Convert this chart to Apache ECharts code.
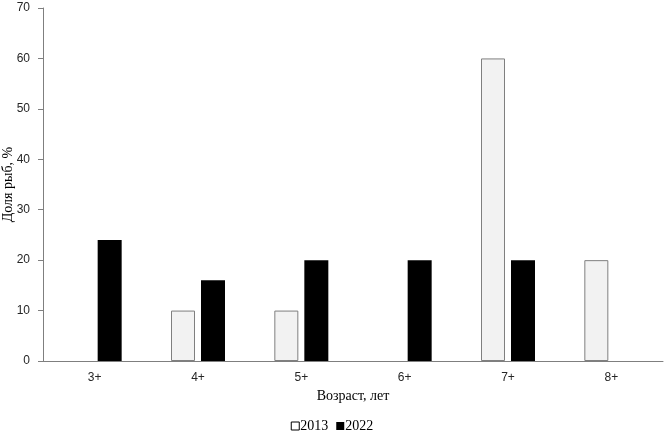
<!DOCTYPE html>
<html><head><meta charset="utf-8">
<script src="https://cdn.jsdelivr.net/npm/echarts@6/dist/echarts.min.js"></script>
<style>html,body{margin:0;padding:0;background:#fff}#c{width:664px;height:439px}</style>
</head><body><div id="c"></div>
<script>
const categories = ['3+','4+','5+','6+','7+','8+'];
const values2013 = [0, 10, 10, 0, 60, 20];
const values2022 = [24, 16, 20, 20, 20, 0];
const yTicks = {min: 0, max: 70, interval: 10};

// zero-height bars are not drawn in the reference
const toBars = arr => arr.map(v => (v === 0 ? null : v));

const chart = echarts.init(document.getElementById('c'), null, {renderer: 'canvas'});
const serif = '"Liberation Serif", "Times New Roman", serif';
const sans = '"Liberation Sans", Arial, sans-serif';
chart.setOption({
  animation: false,
  backgroundColor: '#fff',
  grid: {left: 43, right: 1, top: 8, bottom: 78, containLabel: false, outerBoundsMode: 'none'},
  legend: {
    top: 414, left: 'center',
    itemWidth: 8, itemHeight: 8, itemGap: 8,
    textStyle: {fontFamily: serif, fontSize: 14, color: '#000', padding: [0,0,0,-4]},
    data: [
      {name: '2013', icon: 'rect', itemStyle: {color: '#fff', borderColor: '#000', borderWidth: 1}},
      {name: '2022', icon: 'rect', itemStyle: {color: '#000'}}
    ]
  },
  xAxis: {
    type: 'category', data: categories,
    name: 'Возраст, лет', nameLocation: 'middle', nameGap: 28, nameMoveOverlap: false,
    nameTextStyle: {fontFamily: serif, fontSize: 14, color: '#000'},
    axisLine: {lineStyle: {color: '#7f7f7f', width: 1}},
    axisTick: {show: false},
    axisLabel: {fontFamily: sans, fontSize: 12, color: '#262626', margin: 11}
  },
  yAxis: {
    type: 'value', min: yTicks.min, max: yTicks.max, interval: yTicks.interval,
    name: 'Доля рыб, %', nameLocation: 'middle', nameGap: 28, nameMoveOverlap: false,
    nameTextStyle: {fontFamily: serif, fontSize: 14, color: '#000'},
    axisLine: {show: true, lineStyle: {color: '#7f7f7f', width: 1}},
    axisTick: {show: true, length: 5, lineStyle: {color: '#7f7f7f'}},
    splitLine: {show: false},
    axisLabel: {fontFamily: sans, fontSize: 12, color: '#262626', margin: 13}
  },
  series: [
    {name: '2013', type: 'bar', data: toBars(values2013), barWidth: 24, barGap: '25%',
     itemStyle: {color: '#f2f2f2', borderColor: '#7f7f7f', borderWidth: 1}},
    {name: '2022', type: 'bar', data: toBars(values2022), barWidth: 24,
     itemStyle: {color: '#000'}}
  ]
});
</script></body></html>
